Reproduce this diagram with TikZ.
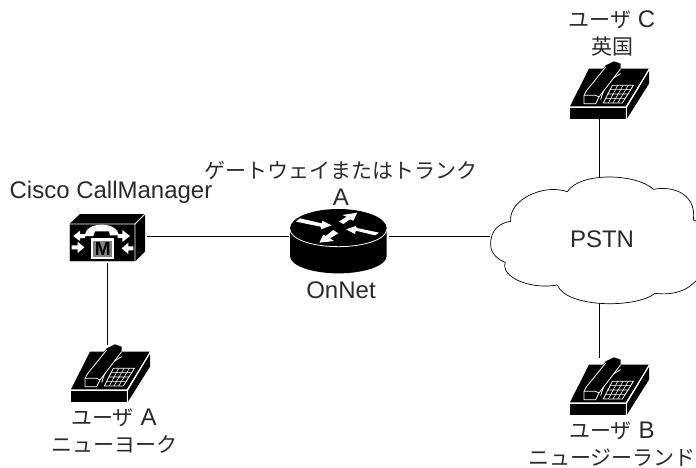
\documentclass[tikz,border=0pt]{standalone}
\usepackage{fontspec}
\setmainfont{Liberation Sans}
\newfontfamily\jp{Noto Sans CJK JP}
\usetikzlibrary{arrows.meta}
\definecolor{ink}{HTML}{2A2A2A}
\newcommand{\jpt}[1]{{\jp\fontsize{21}{27}\selectfont #1}}
\newcommand{\phoneicon}[1]{%
\begin{scope}[shift={(#1)},x=.33333pt,y=-.33333pt]
\begin{scope}[shift={(-213,-582)}]
 \fill[black] (213,718)--(270,605)--(450,605)--(380,718)--cycle;
 \fill[black] (213,722) rectangle (380,757);
 \fill[black] (384,722)--(450,612)--(450,650)--(384,755)--cycle;
 \draw[wln] (382,757)--(382,720)--(450,607);
 \draw[wln] (213,720)--(382,720);
 \fill[black] (340,655)--(403,655)--(370,708)--(313,708)--cycle;
 \draw[wln] (340,655)--(403,655)--(370,708)--(313,708)--cycle;
 \draw[wln,line width=.6pt] (332,668)--(396,668) (325,681)--(388,681) (318,694)--(380,694)
   (356,655)--(328,708) (372,655)--(342,708) (388,655)--(356,708);
 \draw[wln] (365,620) .. controls (335,635) and (315,660) .. (305,698);
 \fill[black] (345,583)--(365,590)--(365,605)--(300,690)--(290,710)--(255,710)--(255,685)--(262,672)--(320,595)--cycle;
 \draw[wln] (365,605)--(300,690)--(290,710)--(255,710)--(255,685)--(262,672)--(320,600);
 \draw[wln] (255,685)--(290,685)--(300,690);
\end{scope}\end{scope}}
\tikzset{
 wln/.style={white,line width=.8pt},
 wire/.style={black,line width=.8pt},
 anchorbox/.style={inner sep=0pt,outer sep=0pt,minimum width=#1},
 lbl/.style={inner sep=0pt,text=ink,align=center,font=\fontsize{24}{27}\selectfont}
}
\begin{document}
\begin{tikzpicture}[x=1pt,y=-1pt]
\useasboundingbox (0,0) rectangle (696,467);
% anchors for connectors
\node[anchorbox=78pt,minimum height=54pt] (cm) at (107.5,236) {};
\node[anchorbox=100pt,minimum height=40pt] (router) at (338.5,236) {};
\node[anchorbox=220pt,minimum height=126pt] (pstn) at (600,240) {};
\node[anchorbox=73pt,minimum height=58pt] (phoneA) at (107.5,374) {};
\node[anchorbox=60pt,minimum height=58pt] (phoneB) at (599.5,387) {};
\node[anchorbox=60pt,minimum height=58pt] (phoneC) at (599.5,90) {};
% connectors
\draw[wire] (cm.south) -- (phoneA.north);
\draw[wire] (cm.east) -- (router.west);
\draw[wire] (router.east) -- (pstn.west |- router.east);
\draw[wire] (phoneC.south) -- (pstn.north -| phoneC.south);
\draw[wire] (pstn.south -| phoneB.north) -- (phoneB.north);
% cloud
\begin{scope}[shift={(480,0)},x=.33333pt,y=-.33333pt]
\draw[fill=white,line width=.7pt]
 (32,735) .. controls (30,690) and (60,668) .. (92,664)
 .. controls (85,600) and (190,550) .. (262,575)
 .. controls (300,515) and (470,520) .. (520,568)
 .. controls (590,555) and (650,590) .. (640,660)
 .. controls (680,670) and (720,780) .. (640,850)
 .. controls (610,880) and (560,885) .. (525,880)
 .. controls (470,925) and (260,925) .. (232,855)
 .. controls (150,870) and (60,830) .. (76,787)
 .. controls (55,780) and (32,760) .. (32,735) -- cycle;
\end{scope}
\node[lbl] (lpstn) at (602,239) {PSTN};
% call manager
\begin{scope}[shift={(65,210)},x=.33333pt,y=-.33333pt]
 \fill[black] (13,42)--(45,12)--(240,12)--(240,125)--(210,155)--(13,155)--cycle;
 \draw[wln] (13,155)--(13,42)--(210,42)--(210,155)--cycle (210,42)--(240,12);
 \fill[white] (60,78) .. controls (60,55) and (85,44) .. (110,44) .. controls (135,44) and (160,55) .. (162,76)
   -- (135,76) -- (132,64) -- (90,64) -- (85,78) -- cycle;
 \fill[white] (25,78)--(45,62)--(45,72)--(60,72)--(60,84)--(45,84)--(45,93)--cycle;
 \fill[white] (58,112)--(38,95)--(38,106)--(20,106)--(20,118)--(38,118)--(38,129)--cycle;
 \fill[white] (195,78)--(172,60)--(172,72)--(158,72)--(158,84)--(172,84)--(172,96)--cycle;
 \fill[white] (170,115)--(190,98)--(190,109)--(205,109)--(205,121)--(190,121)--(190,132)--cycle;
 \fill[white] (78,85) rectangle (148,148);
 \fill[black!50] (85,92) rectangle (141,142);
 \node[inner sep=0pt,font=\bfseries\fontsize{19}{19}\selectfont,text=black] (mlabel) at (113,117) {M};
\end{scope}
% router
\begin{scope}[shift={(200,150)},x=.33333pt,y=-.33333pt]
 \fill[black] (270,235) -- (270,318) arc[start angle=180,end angle=0,x radius=145,y radius=52] -- (560,235) arc[start angle=0,end angle=-180,x radius=145,y radius=58] -- cycle;
 \draw[wln] (270,238) arc[start angle=180,end angle=0,x radius=145,y radius=52];
\end{scope}
\begin{scope}[shift={(285,200)},x=.33333pt,y=-.33333pt]
 \fill[white] (33,65)--(45,55)--(110,70)--(112,62)--(140,76)--(108,88)--(107,80)--cycle;
 \fill[white] (162,65)--(185,50)--(172,45)--(217,38)--(205,62)--(195,58)--(175,72)--cycle;
 \fill[white] (282,98)--(270,106)--(212,92)--(210,102)--(183,88)--(212,78)--(216,84)--cycle;
 \fill[white] (145,90)--(160,100)--(135,115)--(147,123)--(103,128)--(115,104)--(122,108)--cycle;
\end{scope}
% phones
\phoneicon{71,344}
\phoneicon{570,357}
\phoneicon{570,61}
% labels
\node[lbl] (lcm) at (111,192) {Cisco CallManager};
\node[lbl] (lgw) at (341,183.5) {\jpt{ゲートウェイまたはトランク}\\A};
\node[lbl] (lnet) at (341,290) {OnNet};
\node[lbl] (lA) at (114,431.5) {\jpt{ユーザ} A\\\jpt{ニューヨーク}};
\node[lbl] (lB) at (612,444) {\jpt{ユーザ} B\\\jpt{ニュージーランド}};
\node[lbl] (lC) at (612,33) {\jpt{ユーザ} C\\\jpt{英国}};
\end{tikzpicture}
\end{document}
